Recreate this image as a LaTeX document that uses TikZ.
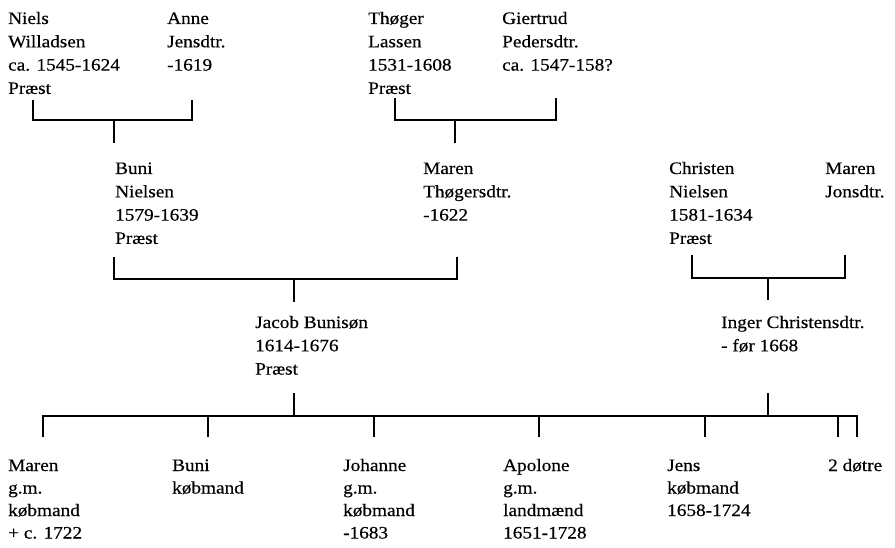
\documentclass[tikz,border=0pt]{standalone}
\usepackage{fontspec}
\setmainfont[FakeStretch=1.1,FakeBold=0.4]{Liberation Serif}
\begin{document}
\begin{tikzpicture}[x=1pt,y=-1pt,
  person/.style={anchor=base west,inner sep=0pt,align=left,font=\fontsize{17.5}{23.3}\selectfont},
  child/.style={person,font=\fontsize{17.5}{22.5}\selectfont},
  link/.style={line width=1.6pt}]
\useasboundingbox (0,0) rectangle (895,548);
% nodes are anchored at the baseline of their last line
% generation 1
\node[person] (niels) at (8,93.9) {Niels\\Willadsen\\ca. 1545-1624\\Præst};
\node[person] (anne) at (167,70.6) {Anne\\Jensdtr.\\-1619};
\node[person] (thoger) at (368,93.9) {Thøger\\Lassen\\1531-1608\\Præst};
\node[person] (giertrud) at (502,70.6) {Giertrud\\Pedersdtr.\\ca. 1547-158?};
% generation 2
\node[person] (buni) at (115,243.9) {Buni\\Nielsen\\1579-1639\\Præst};
\node[person] (marent) at (423,220.6) {Maren\\Thøgersdtr.\\-1622};
\node[person] (christen) at (669,243.9) {Christen\\Nielsen\\1581-1634\\Præst};
\node[person] (marenj) at (825,197.3) {Maren\\Jonsdtr.};
% generation 3
\node[person] (jacob) at (255,374.6) {Jacob Bunisøn\\1614-1676\\Præst};
\node[person] (inger) at (721,351.3) {Inger Christensdtr.\\- før 1668};
% children
\node[child] (maren) at (8,538.5) {Maren\\g.m.\\købmand\\+ c. 1722};
\node[child] (bunik) at (172,493.5) {Buni\\købmand};
\node[child] (johanne) at (343,538.5) {Johanne\\g.m.\\købmand\\-1683};
\node[child] (apolone) at (503,538.5) {Apolone\\g.m.\\landmænd\\1651-1728};
\node[child] (jens) at (667,516) {Jens\\købmand\\1658-1724};
\node[child] (dotre) at (828,471) {2 døtre};
% joints
\coordinate (a1) at (33,100);  \coordinate (a2) at (192,100);
\coordinate (am) at (114,120); \coordinate (ac) at (114,143);
\coordinate (b1) at (395,98);  \coordinate (b2) at (556,98);
\coordinate (bm) at (455,120); \coordinate (bc) at (455,143);
\coordinate (c1) at (114,257); \coordinate (c2) at (457,257);
\coordinate (cm) at (294,279); \coordinate (cc) at (294,302);
\coordinate (d1) at (692,255); \coordinate (d2) at (845,255);
\coordinate (dm) at (768,278); \coordinate (dc) at (768,300);
\coordinate (js) at (294,393); \coordinate (jm) at (294,416);
\coordinate (is) at (768,393); \coordinate (im) at (768,416);
\foreach \n/\x in {1/43,2/208,3/374,4/539,5/705,6/838,7/857}{
  \coordinate (kt\n) at (\x,416);
  \coordinate (kb\n) at (\x,437);
}
% connectors
\draw[link] (a1) |- (am) -| (a2);
\draw[link] (am) -- (ac);
\draw[link] (b1) |- (bm) -| (b2);
\draw[link] (bm) -- (bc);
\draw[link] (c1) |- (cm) -| (c2);
\draw[link] (cm) -- (cc);
\draw[link] (d1) |- (dm) -| (d2);
\draw[link] (dm) -- (dc);
\draw[link] (js) -- (jm);
\draw[link] (is) -- (im);
\draw[link] (kb1) |- (kt7) -- (kb7);
\foreach \n in {2,...,6}{\draw[link] (kt\n) -- (kb\n);}
\end{tikzpicture}
\end{document}
